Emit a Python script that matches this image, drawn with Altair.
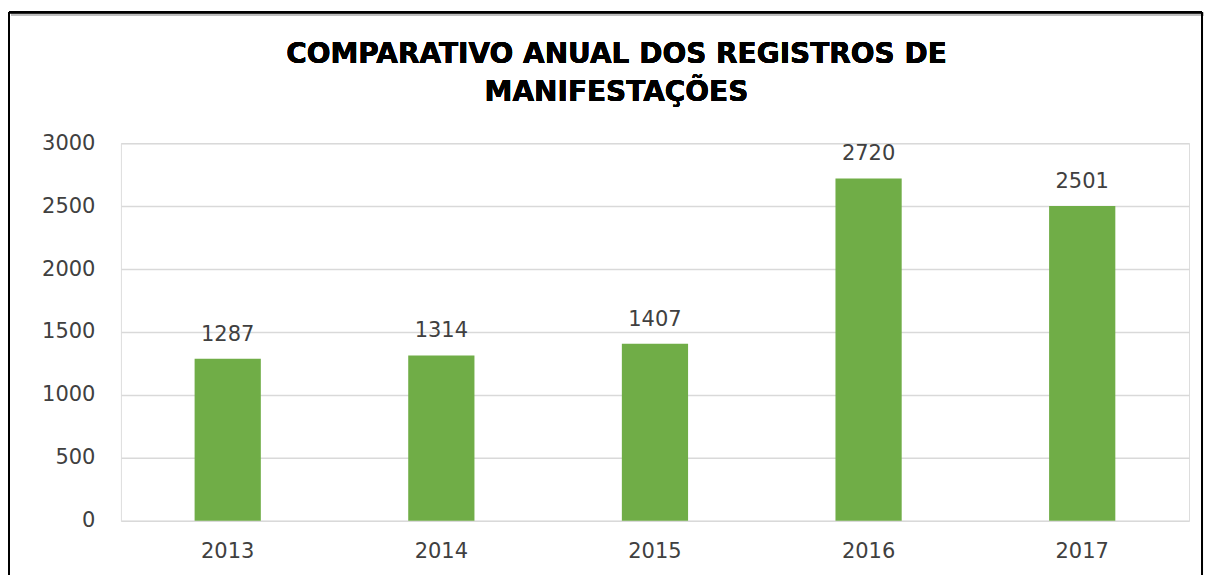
import altair as alt
import pandas as pd

years = ["2013", "2014", "2015", "2016", "2017"]
values = [1287, 1314, 1407, 2720, 2501]
title_lines = ["COMPARATIVO ANUAL DOS REGISTROS DE", "MANIFESTAÇÕES"]

df = pd.DataFrame({"ano": years, "registros": values})

W, H = 1069, 378
FONT = "DejaVu Sans"
TXT = "#404040"

base = alt.Chart(df).encode(
    x=alt.X("ano:N", sort=years,
            scale=alt.Scale(paddingInner=0.69, paddingOuter=0.345),
            axis=alt.Axis(title=None, labelAngle=0, ticks=False, domain=False,
                          labelFontSize=21, labelColor=TXT, labelFont=FONT,
                          labelPadding=20)),
)

bars = base.mark_bar(color="#70AD47").encode(
    y=alt.Y("registros:Q", scale=alt.Scale(domain=[0, 3000]),
            axis=alt.Axis(title=None, values=[0, 500, 1000, 1500, 2000, 2500, 3000],
                          format="d", ticks=False, domain=False, grid=True,
                          gridColor="#D9D9D9", gridWidth=1.5, labelFontSize=21,
                          labelColor=TXT, labelFont=FONT, labelPadding=26))
)

labels = base.mark_text(baseline="bottom", dy=-14, fontSize=21, color=TXT,
                        font=FONT).encode(
    y=alt.Y("registros:Q"),
    text=alt.Text("registros:Q"),
)

title1 = alt.Chart(df).mark_text(text=title_lines[0], font=FONT, fontSize=28,
                                 fontWeight="bold", color="black",
                                 baseline="middle", align="center").encode(
    x=alt.value(496), y=alt.value(-88))
title2 = alt.Chart(df).mark_text(text=title_lines[1], font=FONT, fontSize=28,
                                 fontWeight="bold", color="black",
                                 baseline="middle", align="center").encode(
    x=alt.value(496), y=alt.value(-50))

frame_shadow = alt.Chart(df).mark_rule(color="#BFBFBF", strokeWidth=3).encode(
    x=alt.value(-110), x2=alt.value(1084), y=alt.value(-129))
frame_top = alt.Chart(df).mark_rule(color="black", strokeWidth=2).encode(
    x=alt.value(-112), x2=alt.value(1082), y=alt.value(-131))
frame_left = alt.Chart(df).mark_rule(color="black", strokeWidth=2).encode(
    x=alt.value(-112), y=alt.value(-131), y2=alt.value(450))
frame_right = alt.Chart(df).mark_rule(color="black", strokeWidth=2).encode(
    x=alt.value(1082), y=alt.value(-131), y2=alt.value(450))

chart = alt.layer(bars, labels, title1, title2, frame_shadow, frame_top,
                  frame_left, frame_right).properties(
    width=W, height=H,
    padding={"left": 113, "top": 135, "right": 20, "bottom": 70},
    autosize=alt.AutoSizeParams(type="none"),
).configure_view(stroke=None).configure(background="white")

chart.save("out.html", embed_options={"renderer": "svg", "actions": False})
